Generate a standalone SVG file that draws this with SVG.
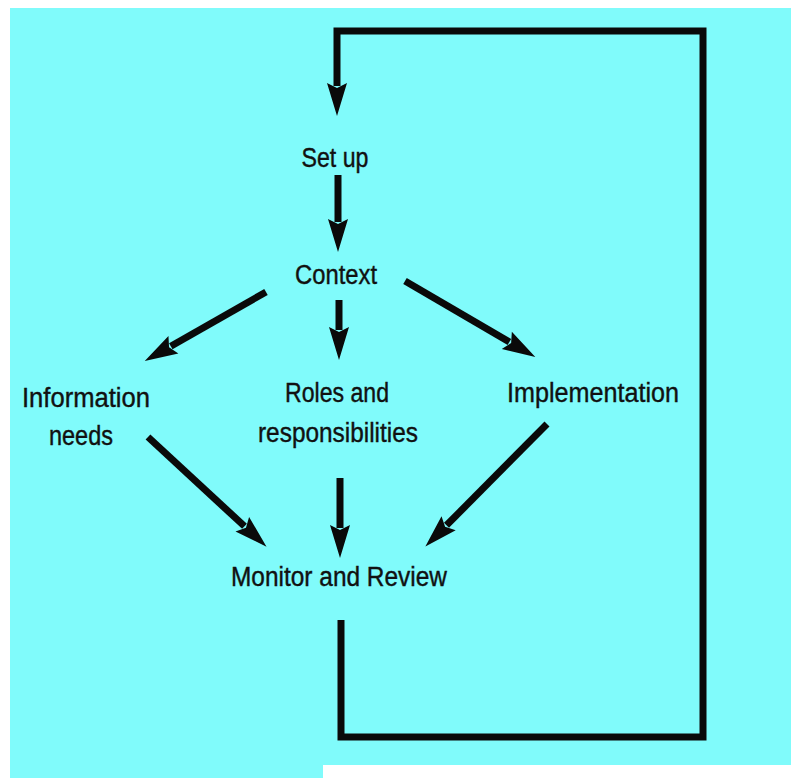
<svg xmlns="http://www.w3.org/2000/svg" width="791" height="778" viewBox="0 0 791 778">
  <style>
    .bg { fill: #80FBFB; }
    .lbl { font-family: "Liberation Sans", Arial, sans-serif; font-size: 27px; fill: #111; stroke: #111; stroke-width: 0.4; text-anchor: middle; }
    .conn { fill: none; stroke: #0a0a0a; stroke-width: 7; stroke-linejoin: miter; stroke-linecap: butt; }
  </style>
  <defs>
    <marker id="head" markerUnits="userSpaceOnUse" markerWidth="38" markerHeight="22" viewBox="-2 -11 38 22" refX="3" refY="0" orient="auto" overflow="visible">
      <path d="M0,-10 L33,0 L0,10 L5,0 Z" fill="#0a0a0a"/>
    </marker>
  </defs>

  <!-- page background -->
  <rect x="0" y="0" width="791" height="778" fill="#ffffff"/>
  <rect class="bg" x="10" y="8" width="781" height="757"/>
  <rect class="bg" x="10" y="765" width="313" height="13"/>

  <!-- connectors -->
  <g id="connectors">
    <path class="conn" d="M341,620 V737 H703 V31 H337 V86" marker-end="url(#head)"/>
    <line class="conn" x1="338" y1="175" x2="338" y2="222" marker-end="url(#head)"/>
    <line class="conn" x1="266" y1="292" x2="170.8" y2="346.2" marker-end="url(#head)"/>
    <line class="conn" x1="339" y1="300" x2="339" y2="330" marker-end="url(#head)"/>
    <line class="conn" x1="405" y1="281" x2="509.4" y2="341.9" marker-end="url(#head)"/>
    <line class="conn" x1="148" y1="437" x2="244.5" y2="526.3" marker-end="url(#head)"/>
    <line class="conn" x1="340" y1="478" x2="340" y2="528" marker-end="url(#head)"/>
    <line class="conn" x1="547" y1="424" x2="446.5" y2="525.3" marker-end="url(#head)"/>
  </g>

  <!-- nodes -->
  <g id="setup">
    <text class="lbl" x="335" y="167" textLength="67" lengthAdjust="spacingAndGlyphs">Set up</text>
  </g>
  <g id="context">
    <text class="lbl" x="336" y="284" textLength="82" lengthAdjust="spacingAndGlyphs">Context</text>
  </g>
  <g id="information-needs">
    <text class="lbl" x="86" y="407" textLength="128" lengthAdjust="spacingAndGlyphs">Information</text>
    <text class="lbl" x="81" y="445" textLength="64" lengthAdjust="spacingAndGlyphs">needs</text>
  </g>
  <g id="roles">
    <text class="lbl" x="337" y="402" textLength="104" lengthAdjust="spacingAndGlyphs">Roles and</text>
    <text class="lbl" x="338" y="442" textLength="160" lengthAdjust="spacingAndGlyphs">responsibilities</text>
  </g>
  <g id="implementation">
    <text class="lbl" x="593" y="402" textLength="172" lengthAdjust="spacingAndGlyphs">Implementation</text>
  </g>
  <g id="monitor">
    <text class="lbl" x="339" y="586" textLength="216" lengthAdjust="spacingAndGlyphs">Monitor and Review</text>
  </g>
</svg>
